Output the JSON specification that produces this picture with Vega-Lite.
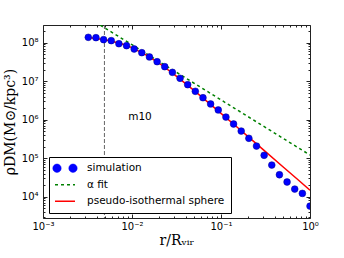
{
  "$schema": "https://vega.github.io/schema/vega-lite/v6.json",
  "width": 267,
  "height": 193,
  "autosize": {"type": "none"},
  "padding": {"left": 43, "top": 25, "right": 34, "bottom": 40},
  "config": {
    "view": {"stroke": "#222", "strokeWidth": 1},
    "font": "DejaVu Sans",
    "axis": {
      "domain": false, "grid": false, "tickColor": "#222", "tickWidth": 1,
      "labelColor": "#000", "labelFont": "DejaVu Sans", "labelFontSize": 10,
      "labelOverlap": false, "labelFlush": false, "labelBound": false,
      "titleColor": "#000", "titleFont": "DejaVu Serif", "titleFontSize": 14, "titleFontWeight": "normal"
    }
  },
  "datasets": {
    "sim": [
      {"r": 0.003228, "rho": 138000000, "series": "simulation"},
      {"r": 0.003935, "rho": 135000000, "series": "simulation"},
      {"r": 0.004795, "rho": 120000000, "series": "simulation"},
      {"r": 0.005845, "rho": 113000000, "series": "simulation"},
      {"r": 0.007124, "rho": 94000000, "series": "simulation"},
      {"r": 0.008682, "rho": 83600000, "series": "simulation"},
      {"r": 0.01058, "rho": 68600000, "series": "simulation"},
      {"r": 0.01289, "rho": 55000000, "series": "simulation"},
      {"r": 0.01571, "rho": 42600000, "series": "simulation"},
      {"r": 0.01915, "rho": 32100000, "series": "simulation"},
      {"r": 0.02333, "rho": 23800000, "series": "simulation"},
      {"r": 0.02844, "rho": 17000000, "series": "simulation"},
      {"r": 0.03466, "rho": 11900000, "series": "simulation"},
      {"r": 0.04224, "rho": 8110000, "series": "simulation"},
      {"r": 0.05147, "rho": 5470000, "series": "simulation"},
      {"r": 0.06273, "rho": 3720000, "series": "simulation"},
      {"r": 0.07645, "rho": 2560000, "series": "simulation"},
      {"r": 0.09317, "rho": 1790000, "series": "simulation"},
      {"r": 0.1136, "rho": 1170000, "series": "simulation"},
      {"r": 0.1384, "rho": 773000, "series": "simulation"},
      {"r": 0.1687, "rho": 508000, "series": "simulation"},
      {"r": 0.2056, "rho": 329000, "series": "simulation"},
      {"r": 0.2505, "rho": 207000, "series": "simulation"},
      {"r": 0.3053, "rho": 119000, "series": "simulation"},
      {"r": 0.3721, "rho": 66500, "series": "simulation"},
      {"r": 0.4535, "rho": 37200, "series": "simulation"},
      {"r": 0.5526, "rho": 24100, "series": "simulation"},
      {"r": 0.6735, "rho": 15800, "series": "simulation"},
      {"r": 0.8209, "rho": 12200, "series": "simulation"},
      {"r": 1.0, "rho": 5700, "series": "simulation"}
    ],
    "alpha": [
      {"r": 0.0044, "rho": 285000000, "series": "α fit"},
      {"r": 0.01, "rho": 88500000, "series": "α fit"},
      {"r": 0.1, "rho": 3270000, "series": "α fit"},
      {"r": 1.0, "rho": 121000, "series": "α fit"}
    ],
    "piso": [
      {"r": 0.003228, "rho": 135600000, "series": "pseudo-isothermal sphere"},
      {"r": 0.005, "rho": 119700000, "series": "pseudo-isothermal sphere"},
      {"r": 0.0075, "rho": 95500000, "series": "pseudo-isothermal sphere"},
      {"r": 0.01, "rho": 74500000, "series": "pseudo-isothermal sphere"},
      {"r": 0.015, "rho": 45700000, "series": "pseudo-isothermal sphere"},
      {"r": 0.02, "rho": 29660000, "series": "pseudo-isothermal sphere"},
      {"r": 0.03, "rho": 14810000, "series": "pseudo-isothermal sphere"},
      {"r": 0.05, "rho": 5690000, "series": "pseudo-isothermal sphere"},
      {"r": 0.075, "rho": 2584000, "series": "pseudo-isothermal sphere"},
      {"r": 0.1, "rho": 1465000, "series": "pseudo-isothermal sphere"},
      {"r": 0.15, "rho": 654000, "series": "pseudo-isothermal sphere"},
      {"r": 0.2, "rho": 368800, "series": "pseudo-isothermal sphere"},
      {"r": 0.3, "rho": 164200, "series": "pseudo-isothermal sphere"},
      {"r": 0.5, "rho": 59150, "series": "pseudo-isothermal sphere"},
      {"r": 0.75, "rho": 26290, "series": "pseudo-isothermal sphere"},
      {"r": 1.0, "rho": 14790, "series": "pseudo-isothermal sphere"}
    ],
    "marker": [{"r": 0.0049}],
    "label": [{"r": 0.0123, "rho": 1200000, "text": "m10"}]
  },
  "resolve": {"axis": {"x": "independent", "y": "independent"}},
  "layer": [
    {
      "data": {"name": "marker"},
      "mark": {"type": "rule", "color": "#666", "strokeDash": [4, 2], "strokeWidth": 1},
      "encoding": {
        "x": {"field": "r", "type": "quantitative", "scale": {"type": "log", "domain": [0.001, 1], "nice": false}, "axis": null}
      }
    },
    {
      "data": {"name": "alpha"},
      "mark": {"type": "line", "strokeDash": [3, 3], "strokeWidth": 1.5, "clip": true},
      "encoding": {
        "x": {"field": "r", "type": "quantitative", "scale": {"type": "log", "domain": [0.001, 1], "nice": false},
          "axis": {"orient": "bottom", "values": [0.001, 0.01, 0.1, 1], "tickSize": -4, "labelPadding": 7,
            "labelExpr": "datum.value == 0.001 ? '10⁻³' : datum.value == 0.01 ? '10⁻²' : datum.value == 0.1 ? '10⁻¹' : '10⁰'",
            "title": "r/Rᵥᵢᵣ", "titlePadding": 2}},
        "y": {"field": "rho", "type": "quantitative", "scale": {"type": "log", "domain": [2800, 288000000], "nice": false},
          "axis": {"orient": "left", "values": [10000, 100000, 1000000, 10000000, 100000000], "tickSize": -4, "labelPadding": 9,
            "labelExpr": "datum.value == 10000 ? '10⁴' : datum.value == 100000 ? '10⁵' : datum.value == 1000000 ? '10⁶' : datum.value == 10000000 ? '10⁷' : '10⁸'",
            "title": "ρDM(M⊙/kpc³)", "titlePadding": 4}},
        "color": {"field": "series", "type": "nominal",
          "scale": {"domain": ["simulation", "α fit", "pseudo-isothermal sphere"], "range": ["#0000ff", "#008000", "#ff0000"]},
          "legend": {"orient": "bottom-left", "offset": 5.5, "title": null, "strokeColor": "#000", "fillColor": "#fff",
            "padding": 6, "labelFont": "DejaVu Sans", "labelFontSize": 10.5, "labelColor": "#000", "labelOffset": 12,
            "symbolSize": 400, "rowPadding": 5.5, "cornerRadius": 0, "labelLimit": 0,
            "encode": {
              "symbols": {"update": {
                "x": {"value": 10},
                "size": {"value": 400},
                "shape": {"signal": "datum.value === 'simulation' ? 'M -1.22 0 A 0.42 0.42 0 1 1 -0.38 0 A 0.42 0.42 0 1 1 -1.22 0 Z M 0.38 0 A 0.42 0.42 0 1 1 1.22 0 A 0.42 0.42 0 1 1 0.38 0 Z' : 'stroke'"},
                "fill": {"signal": "datum.value === 'simulation' ? '#0000ff' : 'transparent'"},
                "stroke": {"signal": "datum.value === 'simulation' ? '#00008b' : datum.value === 'α fit' ? '#008000' : '#ff0000'"},
                "strokeWidth": {"signal": "datum.value === 'simulation' ? 0.5 : 1.5"},
                "strokeDash": {"signal": "datum.value === 'α fit' ? [3, 3] : [1, 0]"},
                "opacity": {"value": 1}
              }},
              "labels": {"update": {"x": {"value": 32}}}
            }}}
      }
    },
    {
      "data": {"name": "piso"},
      "mark": {"type": "line", "strokeWidth": 1.5, "clip": true},
      "encoding": {
        "x": {"field": "r", "type": "quantitative", "scale": {"type": "log", "domain": [0.001, 1], "nice": false},
          "axis": {"orient": "top", "values": [0.001, 0.01, 0.1, 1], "tickSize": -4, "labels": false, "title": null}},
        "y": {"field": "rho", "type": "quantitative", "scale": {"type": "log", "domain": [2800, 288000000], "nice": false},
          "axis": {"orient": "right", "values": [10000, 100000, 1000000, 10000000, 100000000], "tickSize": -4, "labels": false, "title": null}},
        "color": {"field": "series", "type": "nominal"}
      }
    },
    {
      "data": {"name": "sim"},
      "mark": {"type": "point", "filled": true, "size": 46, "opacity": 1, "stroke": "#00008b", "strokeWidth": 0.5, "clip": true},
      "encoding": {
        "x": {"field": "r", "type": "quantitative", "scale": {"type": "log", "domain": [0.001, 1], "nice": false},
          "axis": {"orient": "bottom", "values": [0.002, 0.003, 0.004, 0.005, 0.006, 0.007, 0.008, 0.009, 0.02, 0.03, 0.04, 0.05, 0.06, 0.07, 0.08, 0.09, 0.2, 0.3, 0.4, 0.5, 0.6, 0.7, 0.8, 0.9], "tickSize": -2, "labels": false, "title": null}},
        "y": {"field": "rho", "type": "quantitative", "scale": {"type": "log", "domain": [2800, 288000000], "nice": false},
          "axis": {"orient": "left", "values": [3000, 4000, 5000, 6000, 7000, 8000, 9000, 20000, 30000, 40000, 50000, 60000, 70000, 80000, 90000, 200000, 300000, 400000, 500000, 600000, 700000, 800000, 900000, 2000000, 3000000, 4000000, 5000000, 6000000, 7000000, 8000000, 9000000, 20000000, 30000000, 40000000, 50000000, 60000000, 70000000, 80000000, 90000000, 200000000], "tickSize": -2, "labels": false, "title": null}},
        "color": {"field": "series", "type": "nominal"}
      }
    },
    {
      "data": {"name": "label"},
      "mark": {"type": "text", "font": "DejaVu Sans", "fontSize": 10.5, "color": "#000", "align": "center", "baseline": "middle"},
      "encoding": {
        "x": {"field": "r", "type": "quantitative", "scale": {"type": "log", "domain": [0.001, 1], "nice": false},
          "axis": {"orient": "top", "values": [0.002, 0.003, 0.004, 0.005, 0.006, 0.007, 0.008, 0.009, 0.02, 0.03, 0.04, 0.05, 0.06, 0.07, 0.08, 0.09, 0.2, 0.3, 0.4, 0.5, 0.6, 0.7, 0.8, 0.9], "tickSize": -2, "labels": false, "title": null}},
        "y": {"field": "rho", "type": "quantitative", "scale": {"type": "log", "domain": [2800, 288000000], "nice": false},
          "axis": {"orient": "right", "values": [3000, 4000, 5000, 6000, 7000, 8000, 9000, 20000, 30000, 40000, 50000, 60000, 70000, 80000, 90000, 200000, 300000, 400000, 500000, 600000, 700000, 800000, 900000, 2000000, 3000000, 4000000, 5000000, 6000000, 7000000, 8000000, 9000000, 20000000, 30000000, 40000000, 50000000, 60000000, 70000000, 80000000, 90000000, 200000000], "tickSize": -2, "labels": false, "title": null}},
        "text": {"field": "text", "type": "nominal"}
      }
    }
  ]
}
